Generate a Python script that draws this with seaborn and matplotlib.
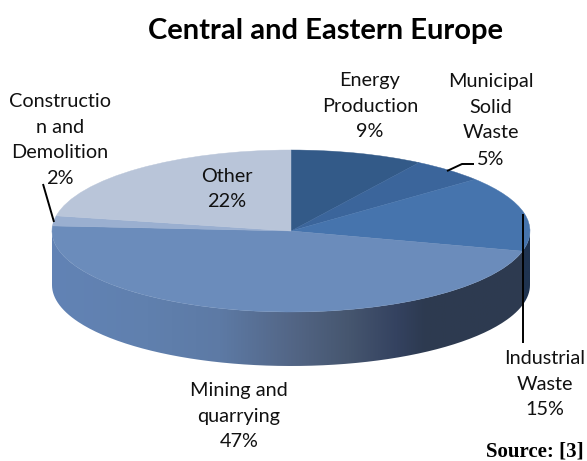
import numpy as np
import seaborn as sns
from matplotlib import pyplot as plt
from matplotlib.colors import LinearSegmentedColormap
from matplotlib.patches import PathPatch
from matplotlib.path import Path

categories = ["Energy Production", "Municipal Solid Waste", "Industrial Waste",
              "Mining and quarrying", "Construction and Demolition", "Other"]
shares = [9, 5, 15, 47, 2, 22]
colors = ["#335a88", "#3b659b", "#4674ad", "#6b8cbb", "#9aafd0", "#b9c5d9"]
wall_stops = [(0.0, "#6283b5"), (0.2, "#6080ae"), (0.35, "#5d7aa5"), (0.5, "#536686"),
              (0.62, "#46566f"), (0.72, "#344260"), (0.78, "#2d3a50"), (0.982, "#2e3b50"),
              (0.985, "#1f3350"), (1.0, "#1f3350")]

W, H = 587, 461
# pie ellipse in pixels
CX, CY, RX, RY, DEPTH = 291, 231, 239, 81, 54

sns.set_theme(style="white")
plt.rcParams["font.family"] = ["Lato", "DejaVu Sans"]

fig = plt.figure(figsize=(W / 100, H / 100), dpi=100)
ax = fig.add_axes([0, 0, 1, 1])

# side wall of the disc, a horizontal gradient clipped to the swept ellipse
t = np.linspace(np.pi, 2 * np.pi, 200)
depth = DEPTH / RY
xs = np.r_[np.cos(t), np.cos(t[::-1])]
ys = np.r_[np.sin(t) - depth, np.sin(t[::-1])]
wall = PathPatch(Path(np.c_[xs, ys]), fc="none", ec="none", transform=ax.transData)
ax.add_patch(wall)
cmap = LinearSegmentedColormap.from_list("wall", wall_stops, N=512)
img = ax.imshow(np.linspace(0, 1, 512)[None, :], extent=(-1, 1, -2, 1), cmap=cmap,
                aspect="auto", zorder=1)
img.set_clip_path(wall)

wedges, _ = ax.pie(shares, colors=colors, startangle=90, counterclock=False, radius=1,
                   wedgeprops={"linewidth": 0.3, "zorder": 2})
for w, c in zip(wedges, colors):
    w.set_edgecolor(c)

ax.set_aspect("auto")
ax.set_xlim(-CX / RX, (W - CX) / RX)
ax.set_ylim((CY - H) / RY, CY / RY)
ax.axis("off")

# overlay in pixel units for labels and leader lines
top = fig.add_axes([0, 0, 1, 1], facecolor="none")
top.set_xlim(0, W)
top.set_ylim(H, 0)
top.axis("off")

top.text(325, 31, "Central and Eastern Europe", fontsize=21, fontweight="bold",
         ha="center", va="center", color="black")

label_kw = dict(fontsize=14.3, ha="center", va="center", color="#111111", linespacing=1.62)
top.text(370, 106, "Energy\nProduction\n9%", **label_kw)
top.text(491, 107, "Municipal\nSolid\nWaste", **label_kw)
top.text(491, 159, "5%", **label_kw)
top.text(60, 140, "Constructio\nn and\nDemolition\n2%", **label_kw)
top.text(227, 189, "Other\n22%", **label_kw)
top.text(239, 416, "Mining and\nquarrying\n47%", **label_kw)
top.text(545, 384, "Industrial\nWaste\n15%", **label_kw)

top.text(486, 451, "Source: [3]", fontsize=15, fontweight="bold", ha="left", va="center",
         family=["Liberation Serif"], color="black")

# leader lines
line_kw = dict(color="black", lw=1.4, solid_capstyle="butt")
top.plot([43, 54], [184, 222], **line_kw)
top.plot([447, 462, 474], [171, 164, 164], **line_kw)
top.plot([523, 523], [214, 343], **line_kw)

fig.savefig("out.png", dpi=100)
